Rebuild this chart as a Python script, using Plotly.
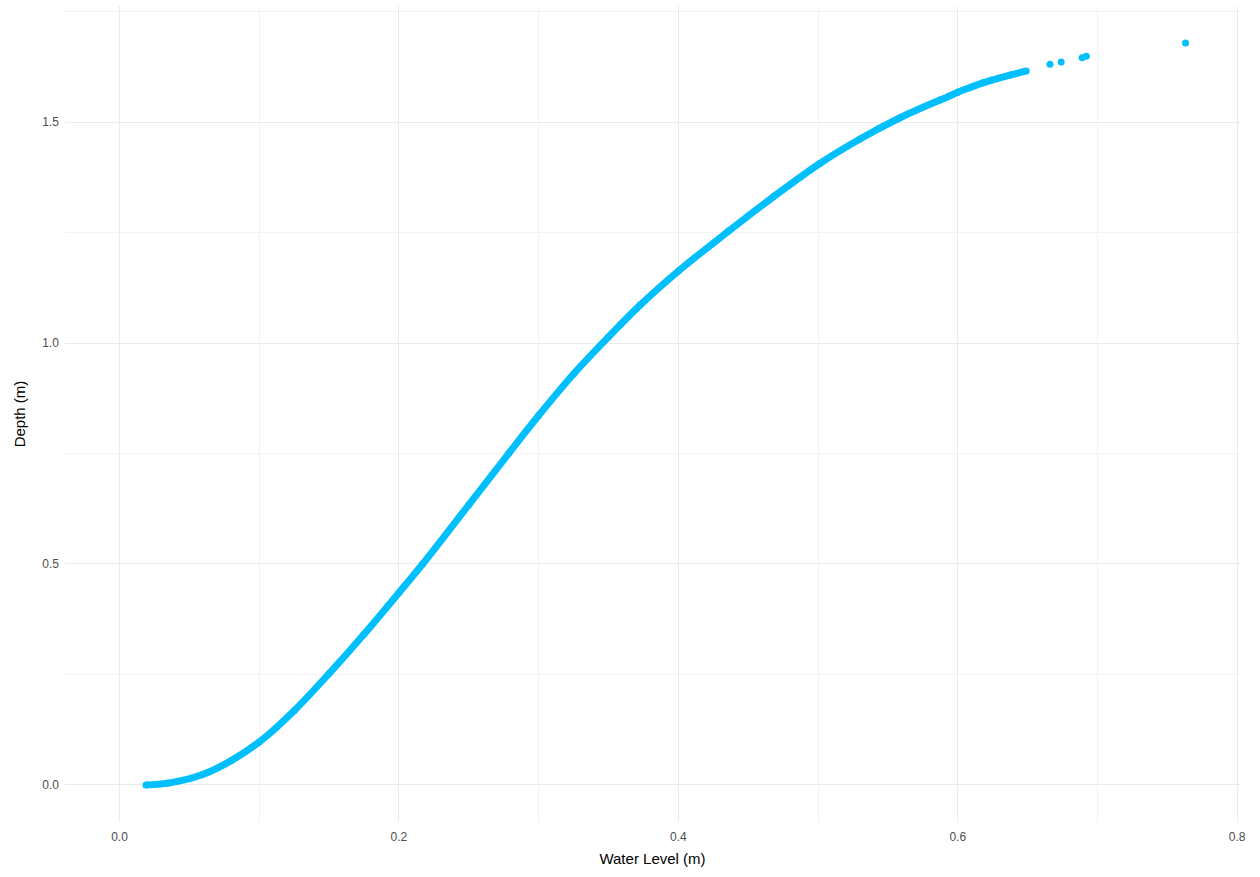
import plotly.graph_objects as go

# Values (Water Level (m) vs Depth (m))
curve_x = [0.019, 0.035, 0.059, 0.080, 0.100, 0.125, 0.150, 0.175, 0.200, 0.217,
           0.250, 0.2785, 0.300, 0.325, 0.350, 0.3726, 0.400, 0.4358, 0.468, 0.501,
           0.530, 0.5587, 0.5873, 0.5905]
curve_y = [0.000, 0.004, 0.023, 0.055, 0.097, 0.168, 0.252, 0.341, 0.435, 0.500,
           0.634, 0.750, 0.836, 0.930, 1.014, 1.086, 1.163, 1.253, 1.331, 1.406,
           1.462, 1.510, 1.550, 1.554]

# short clusters near the top of the curve
cluster_x = [[0.5925, 0.600, 0.6085], [0.6100, 0.618, 0.6250], [0.6275, 0.638, 0.6490]]
cluster_y = [[1.557, 1.568, 1.578], [1.580, 1.589, 1.596], [1.598, 1.607, 1.616]]

# isolated points
iso_x = [0.666, 0.674, 0.689, 0.692, 0.763]
iso_y = [1.631, 1.636, 1.646, 1.649, 1.679]

COLOR = "#00BFFF"

seg_x = list(curve_x)
seg_y = list(curve_y)
for cx, cy in zip(cluster_x, cluster_y):
    seg_x += [None] + cx
    seg_y += [None] + cy

fig = go.Figure()
fig.add_trace(go.Scatter(
    x=seg_x, y=seg_y, mode="lines+markers",
    line=dict(color=COLOR, width=7, shape="spline", smoothing=1.0),
    marker=dict(color=COLOR, size=7, line=dict(width=0)),
    connectgaps=False, showlegend=False, hoverinfo="x+y"))
fig.add_trace(go.Scatter(
    x=iso_x, y=iso_y, mode="markers",
    marker=dict(color=COLOR, size=7, line=dict(width=0)),
    showlegend=False))

axis_common = dict(
    showline=False, zeroline=False, ticks="", automargin=False,
    gridcolor="#EBEBEB", gridwidth=1,
    tickfont=dict(family="Liberation Sans, Arial, sans-serif", size=12, color="#4D4D4D"),
)

fig.update_layout(
    width=1260, height=877,
    margin=dict(l=65, r=20, t=6, b=55),
    paper_bgcolor="white", plot_bgcolor="white",
    font=dict(family="Liberation Sans, Arial, sans-serif"),
    xaxis=dict(
        range=[-0.039, 0.802], tickvals=[0.0, 0.2, 0.4, 0.6, 0.8],
        ticktext=["0.0", "0.2", "0.4", "0.6", "0.8"],
        minor=dict(tickvals=[0.1, 0.3, 0.5, 0.7], showgrid=True,
                   gridcolor="#F2F2F2", gridwidth=1),
        title=dict(text="Water Level (m)", standoff=10,
                   font=dict(size=15, color="black")),
        ticklabelstandoff=6,
        **axis_common),
    yaxis=dict(
        range=[-0.084, 1.763], tickvals=[0.0, 0.5, 1.0, 1.5],
        ticktext=["0.0", "0.5", "1.0", "1.5"],
        minor=dict(tickvals=[0.25, 0.75, 1.25, 1.75], showgrid=True,
                   gridcolor="#F2F2F2", gridwidth=1),
        title=dict(text="Depth (m)", standoff=13,
                   font=dict(size=15, color="black")),
        ticklabelstandoff=5,
        **axis_common),
)

fig.write_html("out.html", config={"displayModeBar": False},
               post_script="document.body.style.margin='0';")
